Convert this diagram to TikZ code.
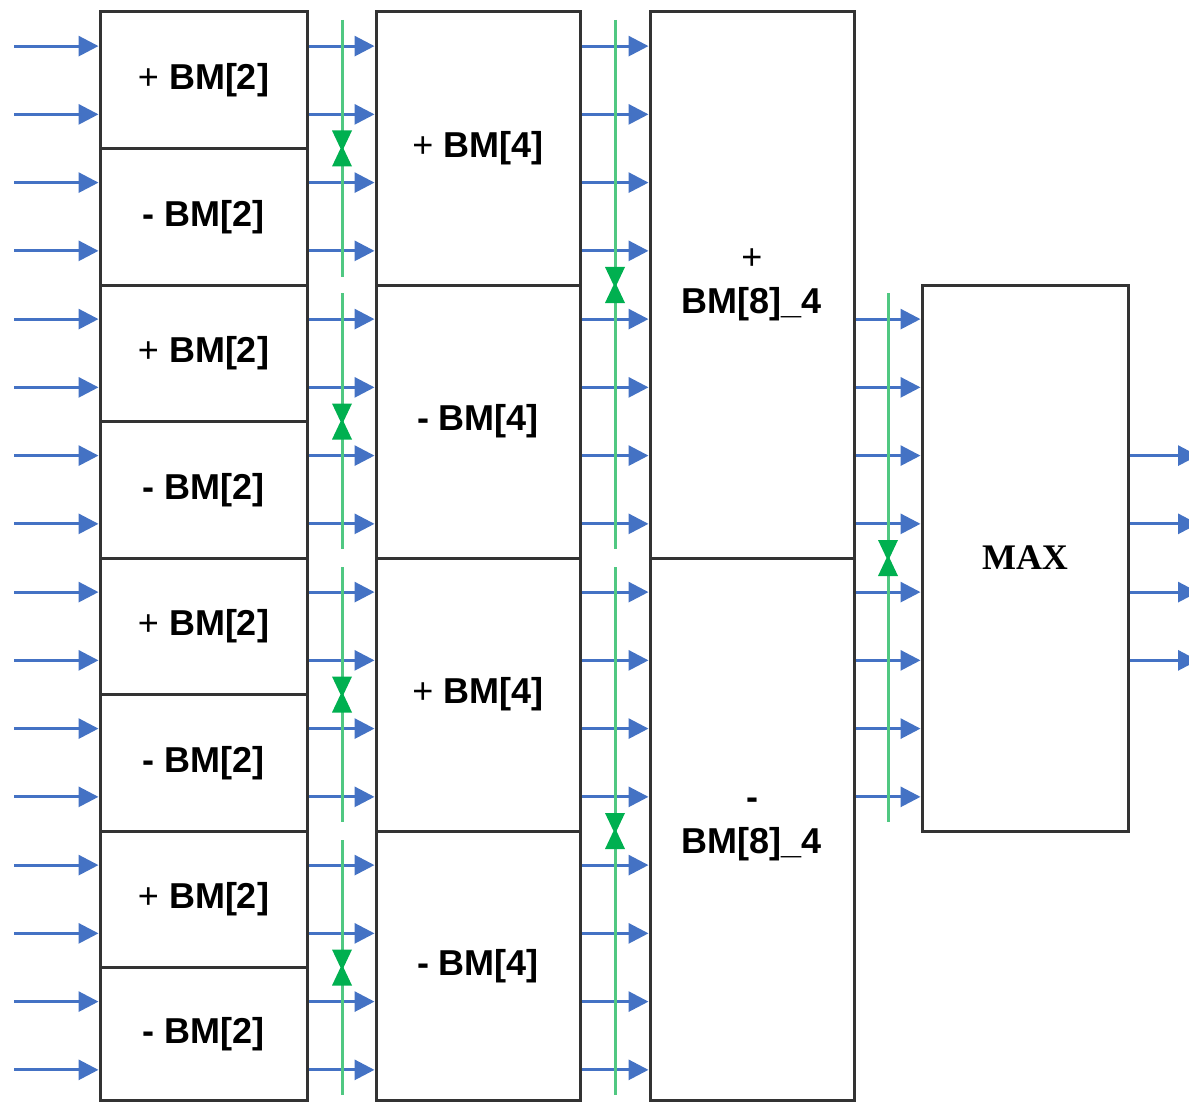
\documentclass[tikz,border=0pt]{standalone}
\usepackage{fontspec}
\setmainfont{Liberation Sans}
\newfontfamily\serifmax{Liberation Serif}
\usetikzlibrary{arrows.meta}
\definecolor{arrblue}{HTML}{4472C4}
\definecolor{bowgreen}{HTML}{00B050}
\definecolor{linegreen}{RGB}{80,200,130}
\begin{document}
\begin{tikzpicture}[x=1pt,y=-1pt,
  box/.style={draw=black!80, line width=3pt, fill=white, inner sep=0pt,
    font=\fontsize{36}{44}\selectfont\bfseries, align=center},
  col1/.style={box, minimum width=207pt, minimum height=136.5pt},
  col2/.style={box, minimum width=204pt, minimum height=273pt},
  col3/.style={box, minimum width=204pt, minimum height=546pt},
  arr/.style={draw=arrblue, line width=3pt, -{Triangle[length=20pt,width=20pt]}},
  gline/.style={draw=linegreen, line width=3pt},
  bowtie/.pic={\fill[bowgreen] (-10,-18) -- (10,-18) -- (1.5,0) -- (10,18) -- (-10,18) -- (-1.5,0) -- cycle;}
]
\useasboundingbox (0,0) rectangle (1189,1102);
\clip (0,0) rectangle (1189,1102);
\fill[white] (0,0) rectangle (1189,1102);

% column 1
\node[col1] (c1-1) at (203.5,80.25) {{\mdseries+} BM[2]};
\node[col1] (c1-2) at (203.5,216.75) {- BM[2]};
\node[col1] (c1-3) at (203.5,353.25) {{\mdseries+} BM[2]};
\node[col1] (c1-4) at (203.5,489.75) {- BM[2]};
\node[col1] (c1-5) at (203.5,626.25) {{\mdseries+} BM[2]};
\node[col1] (c1-6) at (203.5,762.75) {- BM[2]};
\node[col1] (c1-7) at (203.5,899.25) {{\mdseries+} BM[2]};
\node[col1, minimum height=133pt] (c1-8) at (203.5,1034) {- BM[2]};

% column 2
\node[col2] (c2-1) at (478,148.5) {{\mdseries+} BM[4]};
\node[col2] (c2-2) at (478,421.5) {- BM[4]};
\node[col2] (c2-3) at (478,694.5) {{\mdseries+} BM[4]};
\node[col2, minimum height=269.5pt] (c2-4) at (478,965.75) {- BM[4]};

% column 3
\node[col3] (c3-1) at (752,285) {{\mdseries+}\\BM[8]\_4};
\node[col3, minimum height=542.5pt] (c3-2) at (752,829.25) {-\\BM[8]\_4};

% MAX
\node[box, minimum width=206pt, minimum height=546pt, font=\fontsize{36}{44}\selectfont\serifmax\bfseries] (max) at (1025,558) {MAX};

% arrows
\foreach \i in {0,...,15} {
  \coordinate (in\i) at (14,{46.1+68.25*\i});
  \draw[arr] (in\i) -- (in\i -| c1-1.west);
  \draw[arr] (in\i -| c1-1.east) -- (in\i -| c2-1.west);
  \draw[arr] (in\i -| c2-1.east) -- (in\i -| c3-1.west);
}
\foreach \i in {4,...,11} {
  \draw[arr] (in\i -| c3-1.east) -- (in\i -| max.west);
}
\foreach \i in {6,...,9} {
  \coordinate (out\i) at (1198,{46.1+68.25*\i});
  \draw[arr] (in\i -| max.east) -- (out\i);
}

% green lines and bowties
\draw[gline] (342,20) -- (342,277);
\draw[gline] (342,293) -- (342,549);
\draw[gline] (342,567) -- (342,822);
\draw[gline] (342,840) -- (342,1095);
\draw[gline] (615,20) -- (615,549);
\draw[gline] (615,567) -- (615,1095);
\draw[gline] (888,293) -- (888,822);
\foreach \y in {148.5,421.5,694.5,967.5} { \pic at (342,\y) {bowtie}; }
\foreach \y in {285,831} { \pic at (615,\y) {bowtie}; }
\pic at (888,558) {bowtie};
\end{tikzpicture}
\end{document}
